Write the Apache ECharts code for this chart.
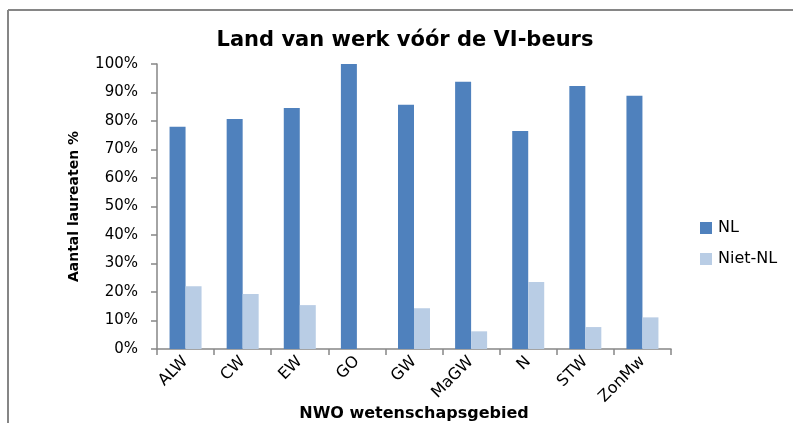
<!DOCTYPE html>
<html>
<head>
<meta charset="utf-8">
<script src="https://cdn.jsdelivr.net/npm/echarts@6/dist/echarts.min.js"></script>
<style>
  html, body { margin: 0; padding: 0; background: #fff; }
  #chart { width: 793px; height: 423px; }
</style>
</head>
<body>
<div id="chart"></div>
<script>
// data ----------------
var categories = ['ALW', 'CW', 'EW', 'GO', 'GW', 'MaGW', 'N', 'STW', 'ZonMw'];
var nlValues = [78, 80.7, 84.6, 100, 85.7, 93.8, 76.5, 92.3, 88.9];
var nietNlValues = [22, 19.3, 15.4, 0, 14.3, 6.2, 23.5, 7.7, 11.1];
var seriesNames = ['NL', 'Niet-NL'];

var fontFam = 'DejaVu Sans';
var axisColor = '#868686';

var myChart = echarts.init(document.getElementById('chart'));

var option = {
    animation: false,
    backgroundColor: '#fff',
    title: [
        {
            text: 'Land van werk vóór de VI-beurs',
            left: 405,
            top: 30,
            padding: 0,
            textAlign: 'center',
            textStyle: {fontFamily: fontFam, fontSize: 21, fontWeight: 'bold', color: '#000'}
        },
        {
            // x-axis name, placed by hand (axis name gets pushed below the rotated labels)
            text: 'NWO wetenschapsgebied',
            left: 414,
            top: 406,
            padding: 0,
            textAlign: 'center',
            textStyle: {fontFamily: fontFam, fontSize: 16, fontWeight: 'bold', color: '#000'}
        }
    ],
    legend: {
        orient: 'vertical',
        left: 700,
        top: 220,
        padding: 0,
        itemWidth: 12,
        itemHeight: 12,
        itemGap: 15,
        icon: 'rect',
        textStyle: {fontFamily: fontFam, fontSize: 16, color: '#000', padding: [0, 0, 0, 1]},
        data: seriesNames
    },
    grid: {left: 157, right: 122, top: 64, bottom: 74, outerBoundsMode: 'none', containLabel: false},
    xAxis: {
        type: 'category',
        data: categories,
        axisLine: {lineStyle: {color: axisColor, width: 1.5}},
        axisTick: {show: true, length: 6, alignWithLabel: false, lineStyle: {color: axisColor, width: 1.5}},
        axisLabel: {rotate: 45, margin: 10, fontFamily: fontFam, fontSize: 16, color: '#000'},
        splitLine: {show: false}
    },
    yAxis: {
        type: 'value',
        min: 0,
        max: 100,
        interval: 10,
        name: 'Aantal laureaten %',
        nameLocation: 'middle',
        nameGap: 76,
        nameTextStyle: {fontFamily: fontFam, fontSize: 14, fontWeight: 'bold', color: '#000'},
        axisLine: {show: true, lineStyle: {color: axisColor, width: 1.5}},
        axisTick: {show: true, length: 6, lineStyle: {color: axisColor, width: 1.5}},
        axisLabel: {formatter: '{value}%', margin: 19, fontFamily: fontFam, fontSize: 15, color: '#000'},
        splitLine: {show: false}
    },
    series: [
        {
            name: seriesNames[0],
            type: 'bar',
            barWidth: 16,
            barGap: '0%',
            itemStyle: {color: '#4F81BD'},
            data: nlValues
        },
        {
            name: seriesNames[1],
            type: 'bar',
            barWidth: 16,
            barGap: '0%',
            itemStyle: {color: '#B9CDE5'},
            data: nietNlValues
        }
    ],
    // chart frame (left + top edges)
    graphic: [
        {type: 'line', shape: {x1: 8, y1: 10, x2: 8, y2: 423}, style: {stroke: '#868686', lineWidth: 2}},
        {type: 'line', shape: {x1: 8, y1: 10, x2: 793, y2: 10}, style: {stroke: '#868686', lineWidth: 2}}
    ]
};

myChart.setOption(option);
</script>
</body>
</html>
